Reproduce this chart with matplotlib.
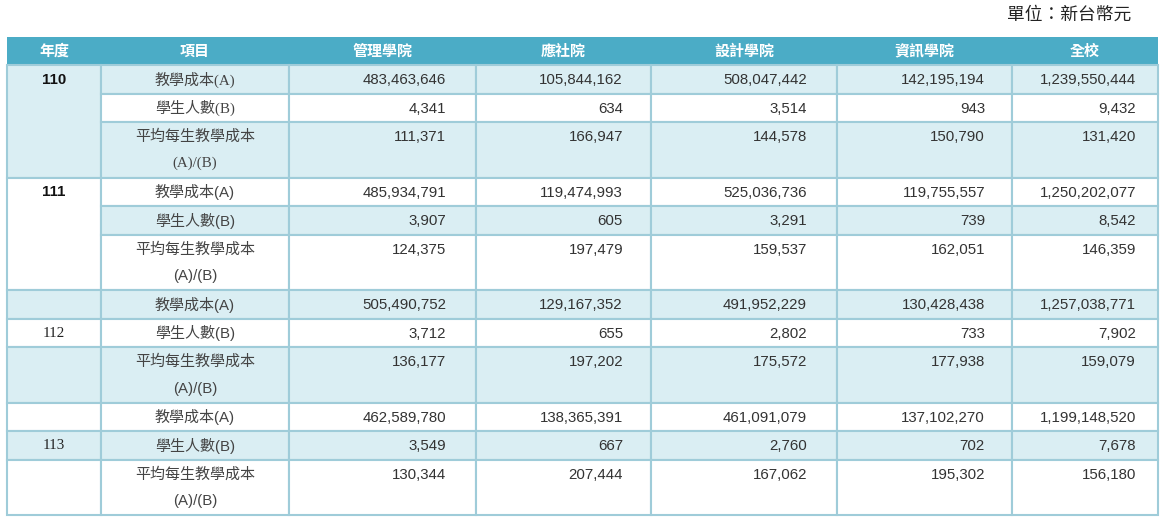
import matplotlib.pyplot as plt
from matplotlib.patches import Rectangle

# table content
years = ['110', '111', '112', '113']
columns = ['年度', '項目', '管理學院', '應社院', '設計學院', '資訊學院', '全校']
items = ['教學成本(A)', '學生人數(B)', '平均每生教學成本\n(A)/(B)']

cost = [
    [483463646, 105844162, 508047442, 142195194, 1239550444],
    [485934791, 119474993, 525036736, 119755557, 1250202077],
    [505490752, 129167352, 491952229, 130428438, 1257038771],
    [462589780, 138365391, 461091079, 137102270, 1199148520],
]
students = [
    [4341, 634, 3514, 943, 9432],
    [3907, 605, 3291, 739, 8542],
    [3712, 655, 2802, 733, 7902],
    [3549, 667, 2760, 702, 7678],
]
per_student = [
    [111371, 166947, 144578, 150790, 131420],
    [124375, 197479, 159537, 162051, 146359],
    [136177, 197202, 175572, 177938, 159079],
    [130344, 207444, 167062, 195302, 156180],
]
unit_label = '單位：新台幣元'

# layout (pixels)
col_x = [7, 101, 289, 476, 651, 837, 1012, 1158]
num_pad = [30, 28, 30, 27, 22]
head_top, head_bot = 37, 65
single_h, double_h = 28.5, 55.5

HEAD = '#4BACC6'
LIGHT = '#DAEEF3'
BORDER = '#9FCCD9'
TXT = '#333333'
FS = 10.8
CJK = 'Noto Sans CJK TC'

fig = plt.figure(figsize=(11.68, 5.25), dpi=100)
ax = fig.add_axes([0, 0, 1, 1])
ax.set_xlim(0, 1168)
ax.set_ylim(525, 0)
ax.axis('off')

ax.text(1131, 15, unit_label, ha='right', va='center', fontsize=12.8,
        family=[CJK], color='#222222')

# header
ax.add_patch(Rectangle((col_x[0], head_top), col_x[-1] - col_x[0], head_bot - head_top,
                       facecolor=HEAD, edgecolor='none'))
for i, name in enumerate(columns):
    cx = (col_x[i] + col_x[i + 1]) / 2
    ax.text(cx, (head_top + head_bot) / 2, name, ha='center', va='center',
            fontsize=FS, color='white', family=[CJK], weight='bold')


def cell(x0, x1, y0, y1, fill):
    ax.add_patch(Rectangle((x0, y0), x1 - x0, y1 - y0, facecolor=fill,
                           edgecolor=BORDER, linewidth=1.5))


y = head_bot
for g, yr in enumerate(years):
    values = [cost[g], students[g], per_student[g]]
    heights = [single_h, single_h, double_h]
    first_blue = g % 2 == 0
    fills = [LIGHT, 'white', LIGHT] if first_blue else ['white', LIGHT, 'white']
    serif_latin = g == 0
    label_family = ['Liberation Serif' if serif_latin else 'Liberation Sans', CJK]
    group_top = y

    # year cell
    if g < 2:
        cell(col_x[0], col_x[1], group_top, group_top + sum(heights), fills[0])
        ax.text((col_x[0] + col_x[1]) / 2, group_top + single_h / 2 + 0.5, yr,
                ha='center', va='center', fontsize=FS, weight='bold',
                family='Liberation Sans', color='#111111')

    for r in range(3):
        top, bot = y, y + heights[r]
        if g >= 2:
            cell(col_x[0], col_x[1], top, bot, fills[r])
            if r == 1:
                ax.text((col_x[0] + col_x[1]) / 2, (top + bot) / 2 + 0.5, yr,
                        ha='center', va='center', fontsize=FS,
                        family='Liberation Serif', color='#222222')
        for c in range(1, 7):
            cell(col_x[c], col_x[c + 1], top, bot, fills[r])

        lines = items[r].split('\n')
        for k, line in enumerate(lines):
            ax.text((col_x[1] + col_x[2]) / 2, top + single_h / 2 + 0.5 + k * 27, line,
                    ha='center', va='center', fontsize=FS, family=label_family,
                    color='#444444')
        for c, v in enumerate(values[r]):
            ax.text(col_x[c + 3] - num_pad[c], top + single_h / 2 + 1, f'{v:,}',
                    ha='right', va='center', fontsize=FS, family='Liberation Sans',
                    color=TXT)
        y = bot

fig.savefig('out.png', dpi=100)
